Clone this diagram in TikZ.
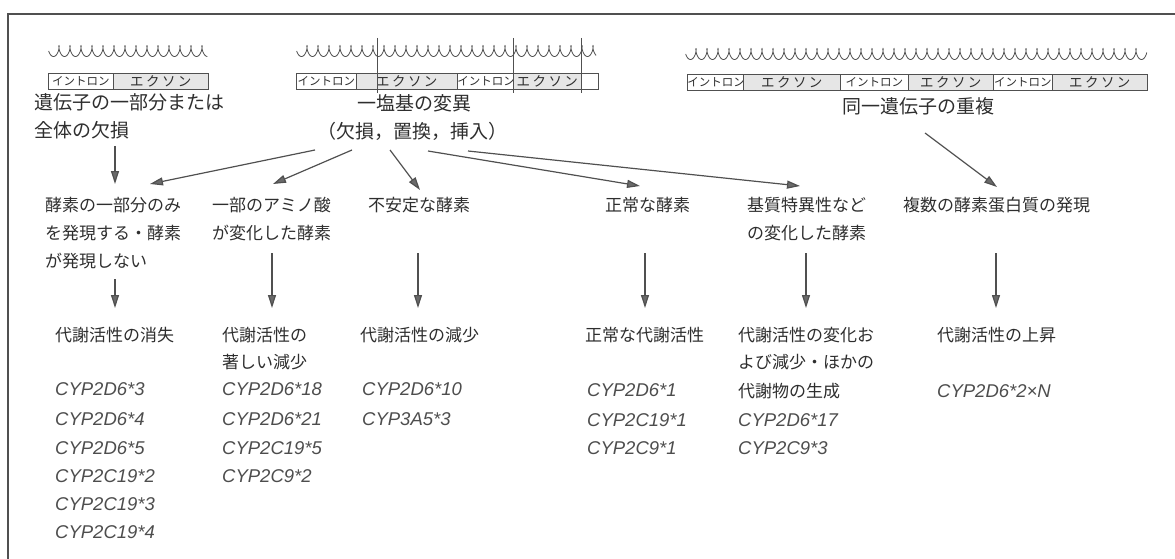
\documentclass[tikz,border=0pt]{standalone}
\usepackage{fontspec}
\setmainfont{Liberation Sans}
\newfontfamily\jp{Noto Sans CJK JP}
\newfontfamily\jpw[LetterSpace=18]{Noto Sans CJK JP}
\usetikzlibrary{arrows.meta}
\definecolor{ink}{HTML}{2E2E2E}
\definecolor{ln}{HTML}{505050}
\definecolor{exfill}{HTML}{E6E6E6}
\begin{document}
\begin{tikzpicture}[x=1pt,y=-1pt,
  toplab/.style={font=\jp\fontsize{19}{19}\selectfont, text=ink, inner sep=0},
  lab/.style={font=\jp\fontsize{17}{17}\selectfont, text=ink, inner sep=0, anchor=west},
  cyp/.style={font=\fontsize{18.5}{18.5}\selectfont\itshape, text=ink!85, inner sep=0, anchor=west},
  intron/.style={draw=ln, line width=0.7pt, inner sep=0, minimum height=16pt, anchor=north west, font=\jp\fontsize{11.5}{11.5}\selectfont, text=ink},
  exon/.style={intron, fill=exfill, font=\jpw\fontsize{13.5}{13.5}\selectfont},
  helix/.style={draw=ln, line width=0.8pt},
  arr/.style={draw=ln, line width=1.2pt, -{Triangle[length=13pt,width=8pt,fill=ln!85]}},
  frame/.style={draw=ln, line width=1.2pt}
]
\useasboundingbox (0,0) rectangle (1175,559);
% frame
\coordinate (fbl) at (8,559);
\coordinate (ftl) at (8,14);
\coordinate (ftr) at (1175,14);
\draw[frame] (fbl) -- (ftl) -- (ftr);

% ---------- group 1 ----------
\draw[helix] plot[domain=0.25:14.5,samples=500,smooth] ({48+11*\x-2.1*sin(360*\x)},{51-5.5*cos(360*\x)});
\node[intron, minimum width=65pt] (g1i1) at (48,73) {イントロン};
\node[exon, minimum width=95pt] (g1e1) at (113,73) {エクソン};
\node[toplab, anchor=west] (g1t1) at (34,102) {遺伝子の一部分または};
\node[toplab, anchor=west] (g1t2) at (34,130) {全体の欠損};

% ---------- group 2 ----------
\draw[helix] plot[domain=0.25:27.4,samples=900,smooth] ({296+11*\x-2.1*sin(360*\x)},{51-5.5*cos(360*\x)});
\node[intron, minimum width=60pt] (g2i1) at (296,73) {イントロン};
\node[exon, minimum width=101pt] (g2e1) at (356,73) {エクソン};
\node[intron, minimum width=56pt] (g2i2) at (457,73) {イントロン};
\node[exon, minimum width=68pt] (g2e2) at (513,73) {エクソン};
\node[intron, minimum width=17pt] (g2x) at (581,73) {};
\coordinate (m1t) at (377,38); \coordinate (m1b) at (377,93);
\coordinate (m2t) at (513,38); \coordinate (m2b) at (513,93);
\coordinate (m3t) at (581,38); \coordinate (m3b) at (581,93);
\draw[ln, line width=0.8pt] (m1t) -- (m1b) (m2t) -- (m2b) (m3t) -- (m3b);
\node[toplab] (g2t1) at (414,103) {一塩基の変異};
\node[toplab] (g2t2) at (412,131) {（欠損，置換，挿入）};

% ---------- group 3 ----------
\draw[helix] plot[domain=0.25:41.8,samples=1300,smooth] ({685+11*\x-2.1*sin(360*\x)},{54-5.5*cos(360*\x)});
\node[intron, minimum width=56pt] (g3i1) at (687,74) {イントロン};
\node[exon, minimum width=97pt] (g3e1) at (743,74) {エクソン};
\node[intron, minimum width=68pt] (g3i2) at (840,74) {イントロン};
\node[exon, minimum width=85pt] (g3e2) at (908,74) {エクソン};
\node[intron, minimum width=59pt] (g3i3) at (993,74) {イントロン};
\node[exon, minimum width=95pt] (g3e3) at (1052,74) {エクソン};
\node[toplab, anchor=west] (g3t1) at (842,106) {同一遺伝子の重複};

% ---------- row 2 ----------
\node[lab] (c1a) at (45,205) {酵素の一部分のみ};
\node[lab] (c1b) at (45,233) {を発現する・酵素};
\node[lab] (c1c) at (45,261) {が発現しない};
\node[lab] (c2a) at (212,205) {一部のアミノ酸};
\node[lab] (c2b) at (212,233) {が変化した酵素};
\node[lab] (c3a) at (368,205) {不安定な酵素};
\node[lab] (c4a) at (605,205) {正常な酵素};
\node[lab] (c5a) at (747,205) {基質特異性など};
\node[lab] (c5b) at (747,233) {の変化した酵素};
\node[lab] (c6a) at (903,205) {複数の酵素蛋白質の発現};

% ---------- row 3 ----------
\node[lab] (d1a) at (55,335) {代謝活性の消失};
\node[lab] (d2a) at (222,335) {代謝活性の};
\node[lab] (d2b) at (222,362) {著しい減少};
\node[lab] (d3a) at (360,335) {代謝活性の減少};
\node[lab] (d4a) at (585,335) {正常な代謝活性};
\node[lab] (d5a) at (738,335) {代謝活性の変化お};
\node[lab] (d5b) at (738,362) {よび減少・ほかの};
\node[lab] (d5c) at (738,391) {代謝物の生成};
\node[lab] (d6a) at (937,335) {代謝活性の上昇};

% ---------- CYP lists ----------
\node[cyp] (e11) at (55,389) {CYP2D6*3};
\node[cyp] (e12) at (55,419) {CYP2D6*4};
\node[cyp] (e13) at (55,448) {CYP2D6*5};
\node[cyp] (e14) at (55,476) {CYP2C19*2};
\node[cyp] (e15) at (55,504) {CYP2C19*3};
\node[cyp] (e16) at (55,532) {CYP2C19*4};
\node[cyp] (e21) at (222,389) {CYP2D6*18};
\node[cyp] (e22) at (222,419) {CYP2D6*21};
\node[cyp] (e23) at (222,448) {CYP2C19*5};
\node[cyp] (e24) at (222,476) {CYP2C9*2};
\node[cyp] (e31) at (362,389) {CYP2D6*10};
\node[cyp] (e32) at (362,419) {CYP3A5*3};
\node[cyp] (e41) at (587,390) {CYP2D6*1};
\node[cyp] (e42) at (587,420) {CYP2C19*1};
\node[cyp] (e43) at (587,448) {CYP2C9*1};
\node[cyp] (e51) at (738,420) {CYP2D6*17};
\node[cyp] (e52) at (738,448) {CYP2C9*3};
\node[cyp] (e61) at (937,391) {CYP2D6*2×N};

% ---------- arrows ----------
\coordinate (s1) at (315,150); \coordinate (t1) at (150,184);
\coordinate (s2) at (352,150); \coordinate (t2) at (273,184);
\coordinate (s3) at (390,150); \coordinate (t3) at (420,190);
\coordinate (s4) at (428,151); \coordinate (t4) at (640,186);
\coordinate (s5) at (468,151); \coordinate (t5) at (800,186);
\coordinate (s6) at (925,133); \coordinate (t6) at (997,187);
\coordinate (s0) at (115,146); \coordinate (t0) at (115,184);
\draw[arr] (s1) -- (t1);
\draw[arr] (s2) -- (t2);
\draw[arr] (s3) -- (t3);
\draw[arr] (s4) -- (t4);
\draw[arr] (s5) -- (t5);
\draw[arr] (s6) -- (t6);
\draw[arr] (s0) -- (t0);

\coordinate (u1) at (115,279); \coordinate (w1) at (115,308);
\coordinate (u2) at (272,253); \coordinate (w2) at (272,308);
\coordinate (u3) at (418,253); \coordinate (w3) at (418,308);
\coordinate (u4) at (645,253); \coordinate (w4) at (645,308);
\coordinate (u5) at (806,253); \coordinate (w5) at (806,308);
\coordinate (u6) at (996,253); \coordinate (w6) at (996,308);
\draw[arr] (u1) -- (w1);
\draw[arr] (u2) -- (w2);
\draw[arr] (u3) -- (w3);
\draw[arr] (u4) -- (w4);
\draw[arr] (u5) -- (w5);
\draw[arr] (u6) -- (w6);
\end{tikzpicture}
\end{document}
